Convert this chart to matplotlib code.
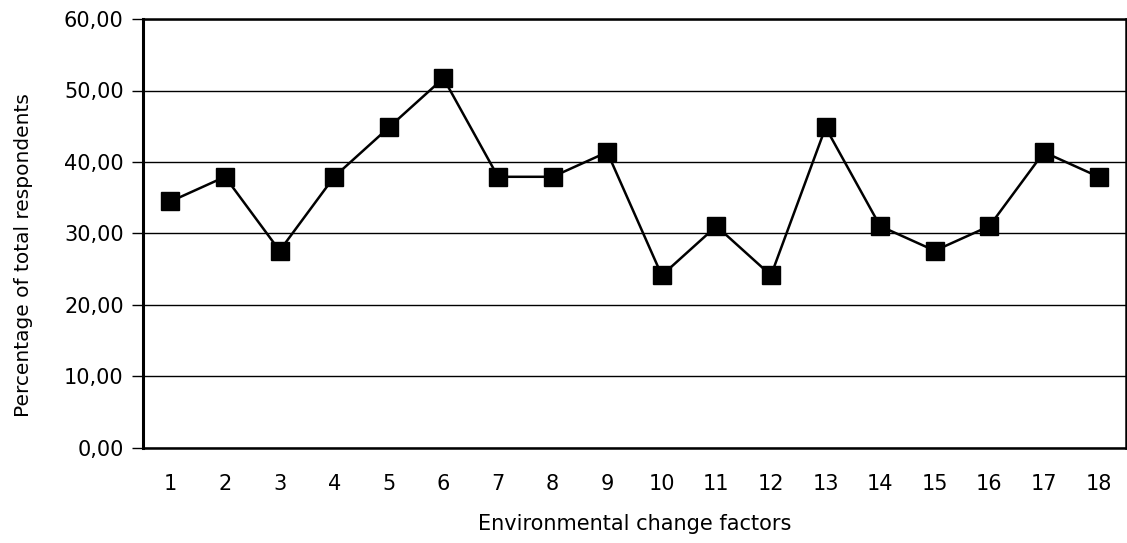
import numpy as np
import matplotlib
matplotlib.use("Agg")
import matplotlib.pyplot as plt
import matplotlib.ticker as mticker

# Share of respondents (n = 29) naming each environmental change factor
factors = list(range(1, 19))
percentages = [34.48, 37.93, 27.59, 37.93, 44.83, 51.72, 37.93, 37.93, 41.38,
               24.14, 31.03, 24.14, 44.83, 31.03, 27.59, 31.03, 41.38, 37.93]
y_ticks = [0, 10, 20, 30, 40, 50, 60]

plt.rcParams["font.family"] = ["DejaVu Sans"]

fig = plt.figure(figsize=(11.27, 5.43), dpi=100)
ax = fig.add_axes([0.127, 0.175, 0.872, 0.79])

ax.plot(factors, percentages, color="black", linewidth=1.8,
        marker="s", markersize=13.5, markerfacecolor="black",
        markeredgecolor="black", zorder=3)

ax.set_xlim(0.5, 18.5)
ax.set_ylim(0, 60)
ax.set_yticks(y_ticks)
ax.set_xticks(factors)
ax.yaxis.set_major_formatter(
    mticker.FuncFormatter(lambda v, _: f"{v:.2f}".replace(".", ",")))

ax.grid(axis="y", color="black", linewidth=1.0, zorder=0)
ax.set_axisbelow(True)

for side in ("top", "right", "bottom"):
    ax.spines[side].set_linewidth(1.8)
ax.spines["left"].set_linewidth(2.2)

ax.tick_params(axis="y", length=8, width=1.0, labelsize=15, pad=6)
ax.tick_params(axis="x", length=0, labelsize=15, pad=19)

ax.set_xlabel("Environmental change factors", fontsize=15, labelpad=14)
ax.set_ylabel("Percentage of total respondents", fontsize=14.5)
ax.yaxis.set_label_coords(-0.112, 0.45)

fig.savefig("out.png", dpi=100)
